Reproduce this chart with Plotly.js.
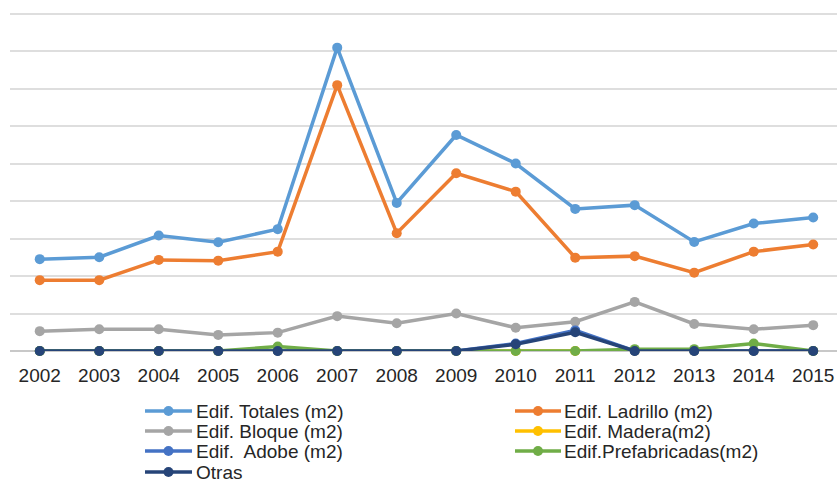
<!DOCTYPE html>
<html>
<head>
<meta charset="utf-8">
<script src="https://cdn.plot.ly/plotly-3.0.1.min.js"></script>
<style>html,body{margin:0;padding:0;background:#fff;}#chart{width:837px;height:482px;}</style>
</head>
<body>
<div id="chart"></div>
<script>
// ---- data ----
const years = [2002,2003,2004,2005,2006,2007,2008,2009,2010,2011,2012,2013,2014,2015];
const seriesNames = ["Edif. Totales (m2)","Edif. Ladrillo (m2)","Edif. Bloque (m2)","Edif. Madera(m2)","Edif.  Adobe (m2)","Edif.Prefabricadas(m2)","Otras"];
const totales      = [2.45,2.50,3.08,2.90,3.25,8.09,3.95,5.76,5.00,3.79,3.89,2.91,3.40,3.56];
const ladrillo     = [1.89,1.89,2.43,2.41,2.65,7.09,3.14,4.74,4.25,2.49,2.53,2.09,2.65,2.84];
const bloque       = [0.53,0.58,0.58,0.43,0.49,0.93,0.74,1.00,0.62,0.78,1.31,0.72,0.58,0.69];
const madera       = [0,0,0,0,0,0,0,0,0,0,0,0,0,0];
const adobe        = [0,0,0,0,0,0,0,0,0.20,0.55,0,0,0,0];
const prefabricadas= [0,0,0,0,0.12,0,0,0,0,0,0.05,0.05,0.20,0];
const otras        = [0,0,0,0,0,0,0,0,0.18,0.50,0,0,0,0];
const seriesValues = [totales, ladrillo, bloque, madera, adobe, prefabricadas, otras];
const colors = ["#5B9BD5","#ED7D31","#A5A5A5","#FFC000","#4472C4","#70AD47","#264478"];

// ---- layout helpers ----
const W = 837, H = 482, ML = 10, MT = 0, MB = 131, MR = 0;
const PW = W - ML - MR, PH = H - MT - MB;
const px2x = px => (px - ML) / PW;
const py2y = py => (MT + PH - py) / PH;
const font = "Liberation Sans, Arial, sans-serif";

const traces = seriesNames.map((name, i) => ({
  x: years, y: seriesValues[i], name: name, type: "scatter", mode: "lines+markers",
  line: {color: colors[i], width: 3.5},
  marker: {color: colors[i], size: 10},
  cliponaxis: false, showlegend: false, hoverinfo: "x+y+name"
}));

// manual legend (two columns, tight rows as in the reference)
const shapes = [], annotations = [];
const colLine = [[145,192],[515,561]];
const colText = [194, 562];
const rowY = [411, 431, 451, 472];
seriesNames.forEach((name, i) => {
  const c = i % 2, r = Math.floor(i / 2);
  const y = py2y(rowY[r]);
  shapes.push({type:"line", xref:"paper", yref:"paper", x0:px2x(colLine[c][0]), x1:px2x(colLine[c][1]), y0:y, y1:y,
               line:{color:colors[i], width:3.5}});
  const cx = px2x((colLine[c][0]+colLine[c][1])/2);
  shapes.push({type:"circle", xref:"paper", yref:"paper", xsizemode:"pixel", ysizemode:"pixel",
               xanchor:cx, yanchor:y, x0:-5, x1:5, y0:-5, y1:5,
               fillcolor:colors[i], line:{color:colors[i], width:0}});
  annotations.push({xref:"paper", yref:"paper", x:px2x(colText[c]), y:y, xanchor:"left", yanchor:"middle",
                    text:name, showarrow:false, font:{family:font, size:19, color:"#262626"}});
});

const layout = {
  width: W, height: H,
  margin: {l: ML, r: MR, t: MT, b: MB},
  paper_bgcolor: "#ffffff", plot_bgcolor: "#ffffff",
  showlegend: false,
  font: {family: font, color: "#262626"},
  xaxis: {
    range: [2001.5, 2015.4], tickmode: "array", tickvals: years, ticktext: years.map(String),
    showgrid: false, zeroline: false, showline: false, ticks: "",
    tickfont: {family: font, size: 19, color: "#262626"}, ticklabelstandoff: 11, fixedrange: true
  },
  yaxis: {
    range: [0, PH / 37.5], dtick: 1, tick0: 0, showticklabels: false, ticks: "",
    showgrid: true, gridcolor: "#dedede", gridwidth: 2,
    zeroline: true, zerolinecolor: "#c8c8c8", zerolinewidth: 1.5, showline: false, fixedrange: true
  },
  shapes: shapes,
  annotations: annotations
};

Plotly.newPlot("chart", traces, layout, {displayModeBar: false, staticPlot: true});
</script>
</body>
</html>
